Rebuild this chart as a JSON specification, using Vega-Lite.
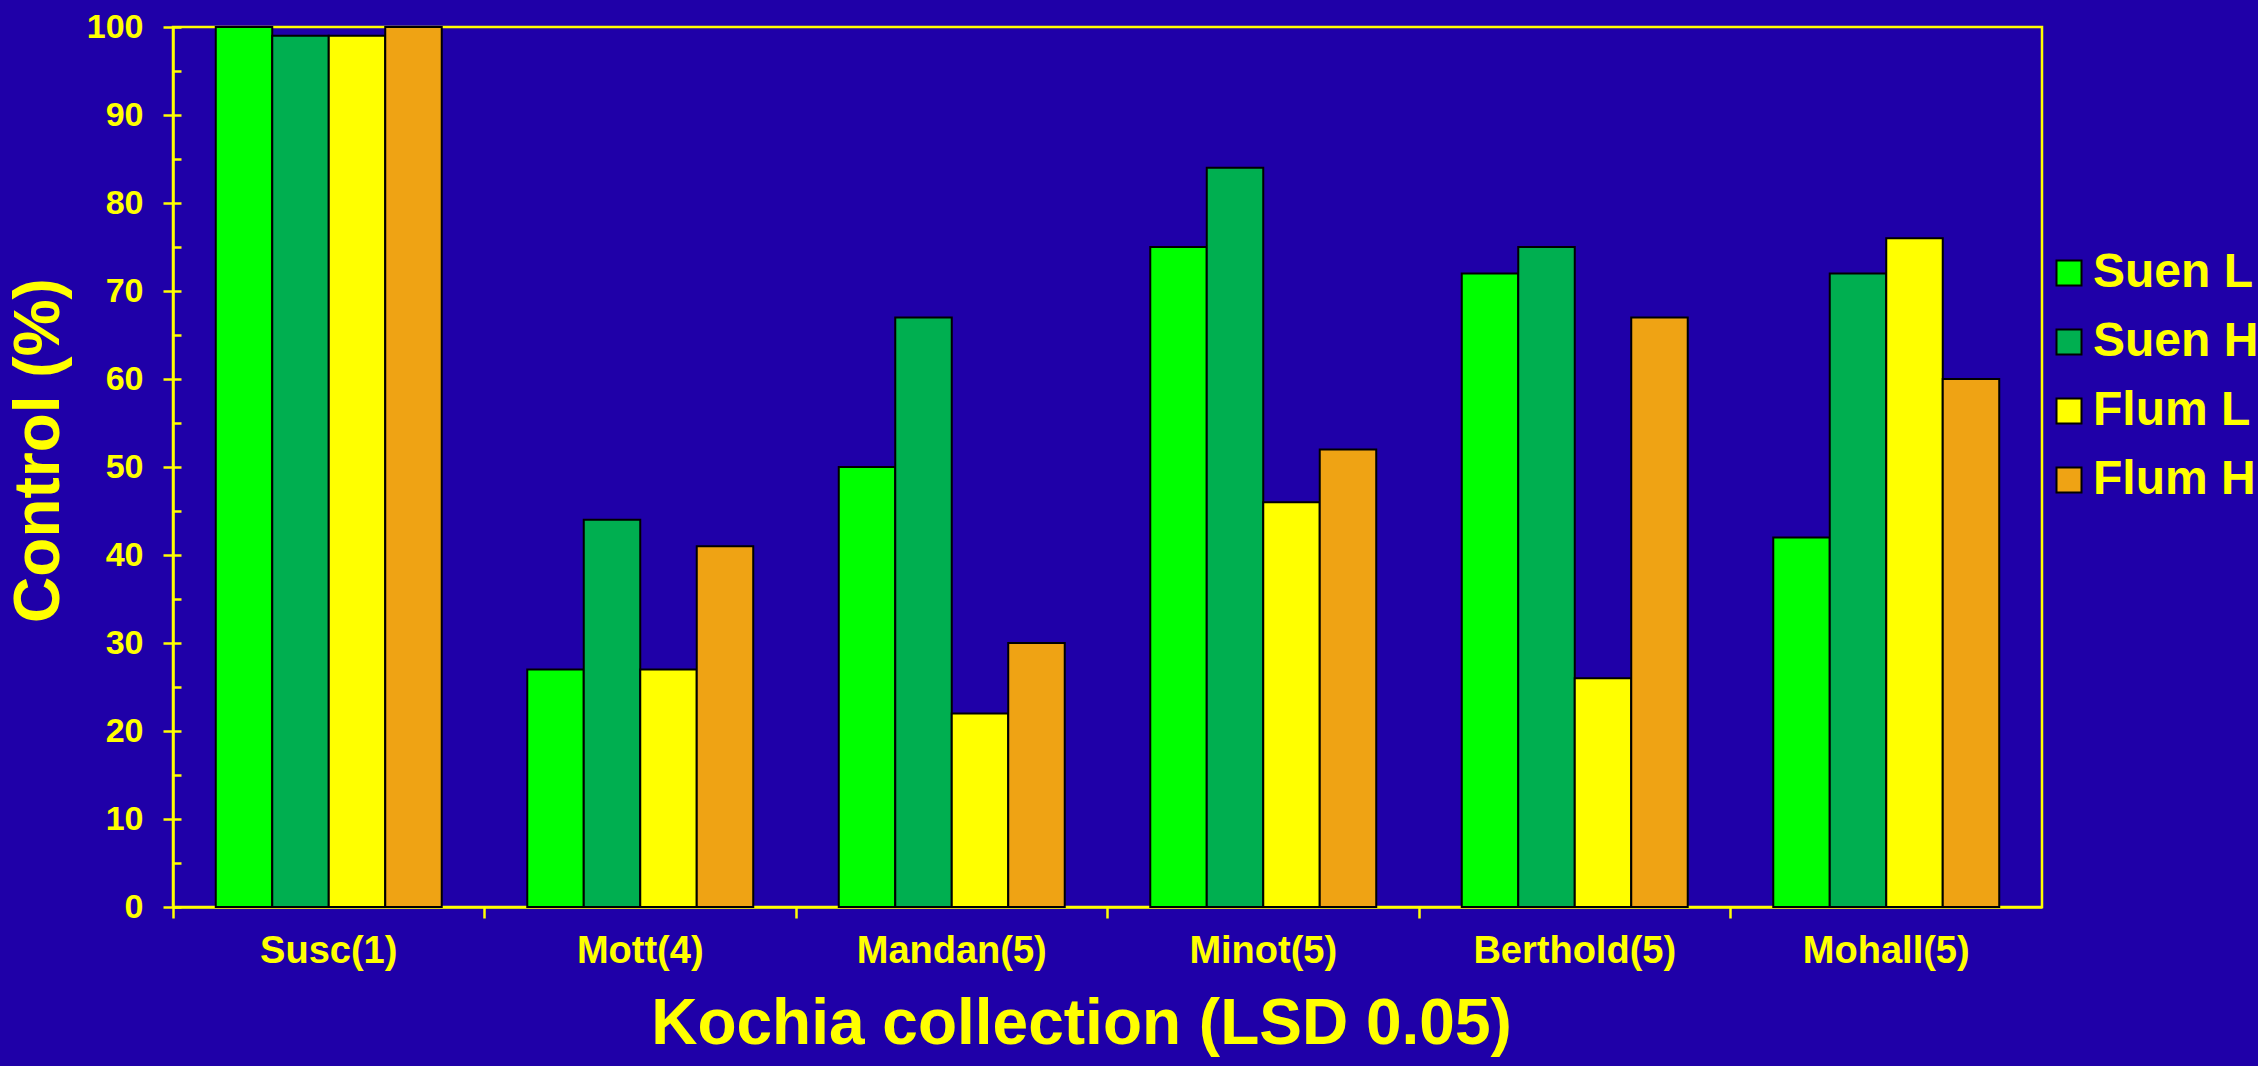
{
  "$schema": "https://vega.github.io/schema/vega-lite/v6.json",
  "width": 1869,
  "height": 880,
  "autosize": "none",
  "padding": {"left": 173, "top": 27, "right": 216, "bottom": 159},
  "background": "#1F00A8",
  "config": {
    "view": {"stroke": "#FFFF00", "strokeWidth": 2.5},
    "font": "Liberation Sans",
    "axis": {"grid": false, "domainColor": "#FFFF00", "domainWidth": 2.5, "tickColor": "#FFFF00", "tickWidth": 2.5,
             "labelColor": "#FFFF00", "titleColor": "#FFFF00", "labelFont": "Liberation Sans", "titleFont": "Liberation Sans",
             "labelFontWeight": "bold", "titleFontWeight": "bold", "labelLimit": 600}
  },
  "data": {"values": [
    {"site": "Susc(1)", "trt": "Suen L", "control": 100},
    {"site": "Susc(1)", "trt": "Suen H", "control": 99},
    {"site": "Susc(1)", "trt": "Flum L", "control": 99},
    {"site": "Susc(1)", "trt": "Flum H", "control": 100},
    {"site": "Mott(4)", "trt": "Suen L", "control": 27},
    {"site": "Mott(4)", "trt": "Suen H", "control": 44},
    {"site": "Mott(4)", "trt": "Flum L", "control": 27},
    {"site": "Mott(4)", "trt": "Flum H", "control": 41},
    {"site": "Mandan(5)", "trt": "Suen L", "control": 50},
    {"site": "Mandan(5)", "trt": "Suen H", "control": 67},
    {"site": "Mandan(5)", "trt": "Flum L", "control": 22},
    {"site": "Mandan(5)", "trt": "Flum H", "control": 30},
    {"site": "Minot(5)", "trt": "Suen L", "control": 75},
    {"site": "Minot(5)", "trt": "Suen H", "control": 84},
    {"site": "Minot(5)", "trt": "Flum L", "control": 46},
    {"site": "Minot(5)", "trt": "Flum H", "control": 52},
    {"site": "Berthold(5)", "trt": "Suen L", "control": 72},
    {"site": "Berthold(5)", "trt": "Suen H", "control": 75},
    {"site": "Berthold(5)", "trt": "Flum L", "control": 26},
    {"site": "Berthold(5)", "trt": "Flum H", "control": 67},
    {"site": "Mohall(5)", "trt": "Suen L", "control": 42},
    {"site": "Mohall(5)", "trt": "Suen H", "control": 72},
    {"site": "Mohall(5)", "trt": "Flum L", "control": 76},
    {"site": "Mohall(5)", "trt": "Flum H", "control": 60}
  ]},
  "encoding": {
    "x": {"field": "site", "type": "nominal", "sort": null,
          "scale": {"paddingInner": 0, "paddingOuter": 0},
          "axis": {"bandPosition": 0, "labelAngle": 0, "labelFontSize": 38, "labelPadding": 14, "tickSize": 11, "labelLimit": 600,
                   "title": "Kochia collection (LSD 0.05)", "titleFontSize": 64, "titlePadding": 22, "titleX": 908}},
    "xOffset": {"field": "trt", "type": "nominal", "sort": ["Suen L", "Suen H", "Flum L", "Flum H"],
                "scale": {"paddingInner": 0, "paddingOuter": 0.757}},
    "y": {"field": "control", "type": "quantitative", "scale": {"domain": [0, 100], "nice": false}}
  },
  "layer": [
    {
      "mark": {"type": "bar", "stroke": "#000000", "strokeWidth": 2, "opacity": 1},
      "encoding": {
        "y": {"field": "control", "type": "quantitative",
              "axis": {"orient": "left", "values": [0,10,20,30,40,50,60,70,80,90,100], "tickSize": 10, "labelFontSize": 34, "labelPadding": 20,
                       "title": "Control (%)", "titleFontSize": 64, "titleX": -102, "titleY": 423, "titleBaseline": "bottom"}},
        "color": {"field": "trt", "type": "nominal",
                  "sort": ["Suen L", "Suen H", "Flum L", "Flum H"],
                  "scale": {"domain": ["Suen L", "Suen H", "Flum L", "Flum H"], "range": ["#00FF00", "#00AF50", "#FFFF00", "#EFA314"]},
                  "legend": {"title": null, "orient": "none", "legendX": 1872, "legendY": 222,
                             "symbolType": "square", "symbolSize": 625, "symbolStrokeColor": "#000000", "symbolStrokeWidth": 2, "symbolOpacity": 1,
                             "labelFontSize": 48, "labelFont": "Liberation Sans", "labelFontWeight": "bold", "labelColor": "#FFFF00",
                             "labelOffset": 0, "rowPadding": 21, "labelLimit": 400}}
      }
    },
    {
      "mark": {"type": "bar", "opacity": 0},
      "encoding": {
        "y": {"field": "control", "type": "quantitative",
              "axis": {"orient": "left", "values": [0,5,10,15,20,25,30,35,40,45,50,55,60,65,70,75,80,85,90,95,100], "tickSize": -8, "labels": false, "domain": false, "title": null}}
      }
    }
  ],
  "resolve": {"axis": {"y": "independent"}}
}
